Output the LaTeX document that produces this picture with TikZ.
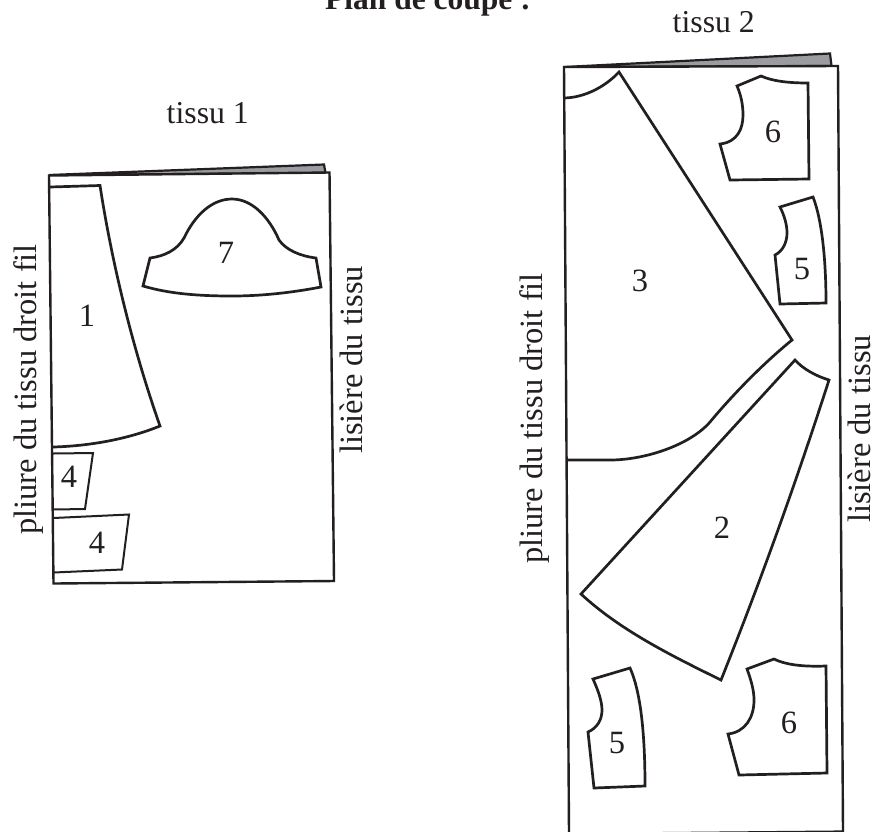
\documentclass[tikz,border=0pt]{standalone}
\usepackage{fontspec}
\setmainfont{Liberation Serif}
\definecolor{ink}{HTML}{231F20}
\definecolor{foldgray}{HTML}{9A9C9F}
\tikzset{
  sheet/.style={draw=ink,line width=2.4pt,fill=white,line join=miter},
  back/.style={draw=ink,line width=2.2pt,fill=foldgray,line join=miter},
  piece/.style={draw=ink,line width=2.7pt,line join=miter},
  thinpiece/.style={draw=ink,line width=2pt,line join=miter},
  lab/.style={text=ink,inner sep=0pt,font=\fontsize{32.5pt}{32.5pt}\selectfont},
  vlab/.style={lab,rotate=90,anchor=base west},
  hlab/.style={lab,anchor=base west,font=\fontsize{31.8pt}{31.8pt}\selectfont}
}
\begin{document}
\begin{tikzpicture}[x=1pt,y=-1pt]
\useasboundingbox (0,0) rectangle (874,831);
\clip (0,0) rectangle (874,831);
\fill[white] (0,0) rectangle (874,831);
% title
\node[lab,anchor=base west,font=\fontsize{31.5pt}{31.5pt}\selectfont\bfseries] (title) at (325,9.5) {Plan de coupe :};
\node[hlab] (t1) at (166.5,123) {tissu 1};
\node[hlab] (t2) at (672.5,32) {tissu 2};
% fabric 1
\draw[back] (49,175) -- (324,164.5) -- (325.5,173) -- cycle;
\draw[sheet] (49,175.5) -- (329.5,172.5) -- (334,581) -- (53.5,583.5) -- cycle;
% piece 1
\draw[piece] (50,187) -- (100,185.5) .. controls (113,270) and (135,355) .. (160,426) .. controls (128,439) and (90,446) .. (53,447);
% piece 7
\draw[piece] (143,286) -- (150,258) .. controls (165,256) and (177,250) .. (184,238)
  .. controls (195,215) and (212,199) .. (232,199)
  .. controls (252,199) and (269,217) .. (279,240)
  .. controls (286,250) and (300,256) .. (316,258)
  -- (321,287) .. controls (290,293) and (260,296) .. (232,296) .. controls (200,296) and (170,294) .. (143,286) -- cycle;
% pieces 4
\draw[thinpiece] (53,453.5) -- (93,453) -- (85,509) -- (53,509.5);
\draw[thinpiece] (53.5,518) -- (129,514.5) -- (122,569.5) -- (53.5,572.5);
\node[lab] (n1) at (87,316) {1};
\node[lab] (n7) at (226,253) {7};
\node[lab] (n4a) at (69,477) {4};
\node[lab] (n4b) at (97,543) {4};
\node[vlab] (v1) at (36,535) {pliure du tissu droit fil};
\node[vlab] (v2) at (362,454) {lisière du tissu};
% fabric 2
\draw[back] (564,67) -- (830,53.5) -- (831.5,66) -- cycle;
\draw[sheet] (564,67) -- (838,66) -- (843,831.6) -- (569,834) -- cycle;
% piece 3
\draw[piece] (563,98) .. controls (585,98) and (606,86) .. (619,72)
  -- (792,340) .. controls (765,362) and (735,392) .. (710,422)
  .. controls (690,445) and (645,460) .. (610,460) -- (567,460);
% piece 2
\draw[piece] (795,360) .. controls (803,369) and (816,376) .. (829,380)
  .. controls (800,470) and (765,570) .. (721,680)
  .. controls (670,655) and (620,630) .. (581,594) -- cycle;
% upper 6
\draw[piece] (737,86) -- (761,76) .. controls (772,81) and (788,83) .. (808,83)
  -- (809,179) -- (730,180) -- (720,144)
  .. controls (738,142) and (743,128) .. (743,115) .. controls (743,105) and (741,95) .. (737,86) -- cycle;
% upper 5
\draw[piece] (780,207) -- (813,197) .. controls (822,220) and (826,260) .. (826,303)
  -- (780,304) -- (775,255)
  .. controls (783,251) and (787,242) .. (787,233) .. controls (787,224) and (784,215) .. (780,207) -- cycle;
% lower 5
\draw[piece] (593,679) -- (630,668) .. controls (640,690) and (645,730) .. (645,786)
  -- (594,788) -- (588,732)
  .. controls (597,728) and (602,720) .. (602,710) .. controls (602,700) and (597,688) .. (593,679) -- cycle;
% lower 6
\draw[piece] (747,669) -- (774,659) .. controls (784,664) and (800,667) .. (826,666)
  -- (827,773) -- (739,775) -- (728,734)
  .. controls (745,732) and (754,718) .. (754,700) .. controls (754,690) and (751,680) .. (747,669) -- cycle;
\node[lab] (n3) at (640,281) {3};
\node[lab] (n6a) at (773,132) {6};
\node[lab] (n5a) at (802,269) {5};
\node[lab] (n2) at (722,528) {2};
\node[lab] (n5b) at (617,743) {5};
\node[lab] (n6b) at (789,723) {6};
\node[vlab] (v3) at (542,564) {pliure du tissu droit fil};
\node[vlab] (v4) at (870,523) {lisière du tissu};
\end{tikzpicture}
\end{document}
